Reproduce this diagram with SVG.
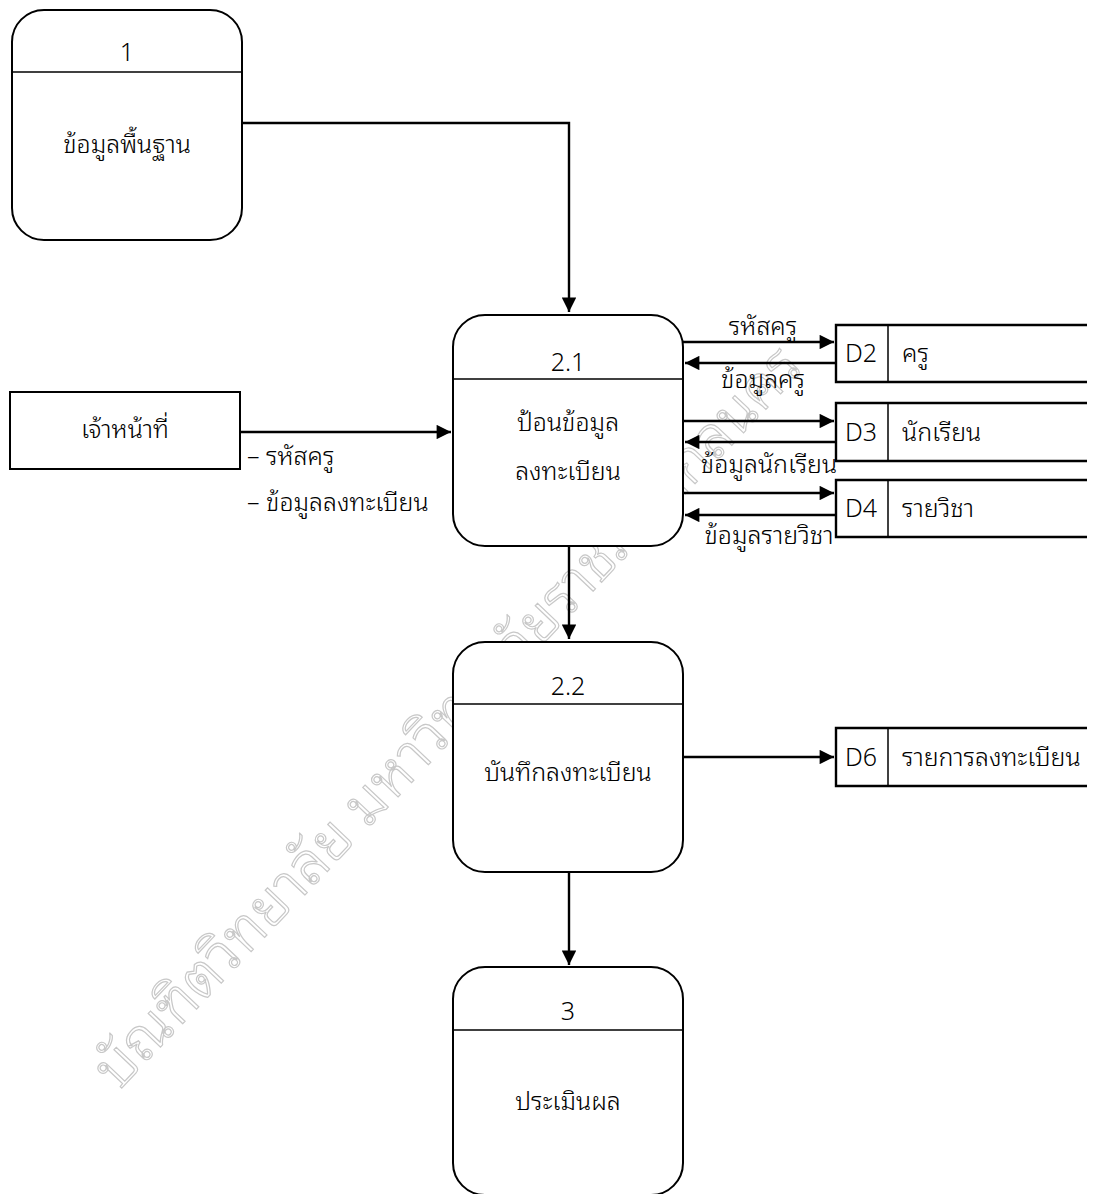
<svg xmlns="http://www.w3.org/2000/svg" width="1107" height="1194" viewBox="0 0 1107 1194">
<style>
.box{fill:#fff;stroke:#000;stroke-width:2}
.ln{fill:none;stroke:#000;stroke-width:2.4}
.thin{fill:none;stroke:#000;stroke-width:1.5}
.t{font-family:"Noto Sans Thai Looped","Loma","Tahoma","Leelawadee UI","Garuda","Noto Sans Thai","Noto Sans",sans-serif;font-size:25px;font-weight:300;fill:#000}
.c{text-anchor:middle}
.wm{font-family:"Noto Sans Thai Looped","Loma","Tahoma","Noto Sans Thai","Noto Sans",sans-serif;font-size:58px;font-weight:300;fill:none;stroke:#c8c8c8;stroke-width:1.2}
</style>
<defs>
<marker id="ah" viewBox="0 0 10 10" refX="10" refY="5" markerWidth="6.5" markerHeight="6" markerUnits="strokeWidth" orient="auto">
<path d="M0,0 L10,5 L0,10 Z" fill="#000"/>
</marker>
</defs>
<rect width="1107" height="1194" fill="#fff"/>

<g id="watermark">
<text class="wm" transform="translate(118,1092) rotate(-46.5)">บัณฑิตวิทยาลัย มหาวิทยาลัยราชภัฏสกลนคร</text>
</g>

<g id="connectors">
<path class="ln" d="M242,123 H569 V312" marker-end="url(#ah)"/>
<path class="ln" d="M240,432 H451" marker-end="url(#ah)"/>
<path class="ln" d="M683,342 H834" marker-end="url(#ah)"/>
<path class="ln" d="M836,363 H685" marker-end="url(#ah)"/>
<path class="ln" d="M683,421 H834" marker-end="url(#ah)"/>
<path class="ln" d="M836,442 H685" marker-end="url(#ah)"/>
<path class="ln" d="M683,493 H834" marker-end="url(#ah)"/>
<path class="ln" d="M836,515 H685" marker-end="url(#ah)"/>
<path class="ln" d="M569,546 V639" marker-end="url(#ah)"/>
<path class="ln" d="M683,757 H834" marker-end="url(#ah)"/>
<path class="ln" d="M569,872 V965" marker-end="url(#ah)"/>
<text class="t c" x="763" y="335">รหัสครู</text>
<text class="t c" x="763" y="388">ข้อมูลครู</text>
<text class="t c" x="769" y="473">ข้อมูลนักเรียน</text>
<text class="t c" x="769" y="544">ข้อมูลรายวิชา</text>
<text class="t" x="247" y="465">– รหัสครู</text>
<text class="t" x="247" y="511">– ข้อมูลลงทะเบียน</text>
</g>

<g id="p1">
<rect class="box" x="12" y="10" width="230" height="230" rx="32"/>
<line class="thin" x1="12" y1="72" x2="242" y2="72"/>
<text class="t c" x="127" y="61">1</text>
<text class="t c" x="127" y="153">ข้อมูลพื้นฐาน</text>
</g>

<g id="p21">
<rect class="box" x="453" y="315" width="230" height="231" rx="32"/>
<line class="thin" x1="453" y1="379" x2="683" y2="379"/>
<text class="t c" x="568" y="371">2.1</text>
<text class="t c" x="568" y="431">ป้อนข้อมูล</text>
<text class="t c" x="568" y="480">ลงทะเบียน</text>
</g>

<g id="p22">
<rect class="box" x="453" y="642" width="230" height="230" rx="32"/>
<line class="thin" x1="453" y1="704" x2="683" y2="704"/>
<text class="t c" x="568" y="695">2.2</text>
<text class="t c" x="568" y="781">บันทึกลงทะเบียน</text>
</g>

<g id="p3">
<rect class="box" x="453" y="967" width="230" height="228" rx="32"/>
<line class="thin" x1="453" y1="1030" x2="683" y2="1030"/>
<text class="t c" x="568" y="1020">3</text>
<text class="t c" x="568" y="1110">ประเมินผล</text>
</g>

<g id="e1">
<rect class="box" x="10" y="392" width="230" height="77"/>
<text class="t c" x="125" y="438">เจ้าหน้าที่</text>
</g>

<g id="d2">
<path class="ln" d="M1087,325 H836 V382 H1087"/>
<line class="thin" x1="888" y1="325" x2="888" y2="382"/>
<text class="t c" x="861" y="362">D2</text>
<text class="t" x="902" y="362">ครู</text>
</g>

<g id="d3">
<path class="ln" d="M1087,403 H836 V461 H1087"/>
<line class="thin" x1="888" y1="403" x2="888" y2="461"/>
<text class="t c" x="861" y="441">D3</text>
<text class="t" x="902" y="441">นักเรียน</text>
</g>

<g id="d4">
<path class="ln" d="M1087,480 H836 V537 H1087"/>
<line class="thin" x1="888" y1="480" x2="888" y2="537"/>
<text class="t c" x="861" y="517">D4</text>
<text class="t" x="902" y="517">รายวิชา</text>
</g>

<g id="d6">
<path class="ln" d="M1087,728 H836 V786 H1087"/>
<line class="thin" x1="888" y1="728" x2="888" y2="786"/>
<text class="t c" x="861" y="766">D6</text>
<text class="t" x="902" y="766">รายการลงทะเบียน</text>
</g>
</svg>
